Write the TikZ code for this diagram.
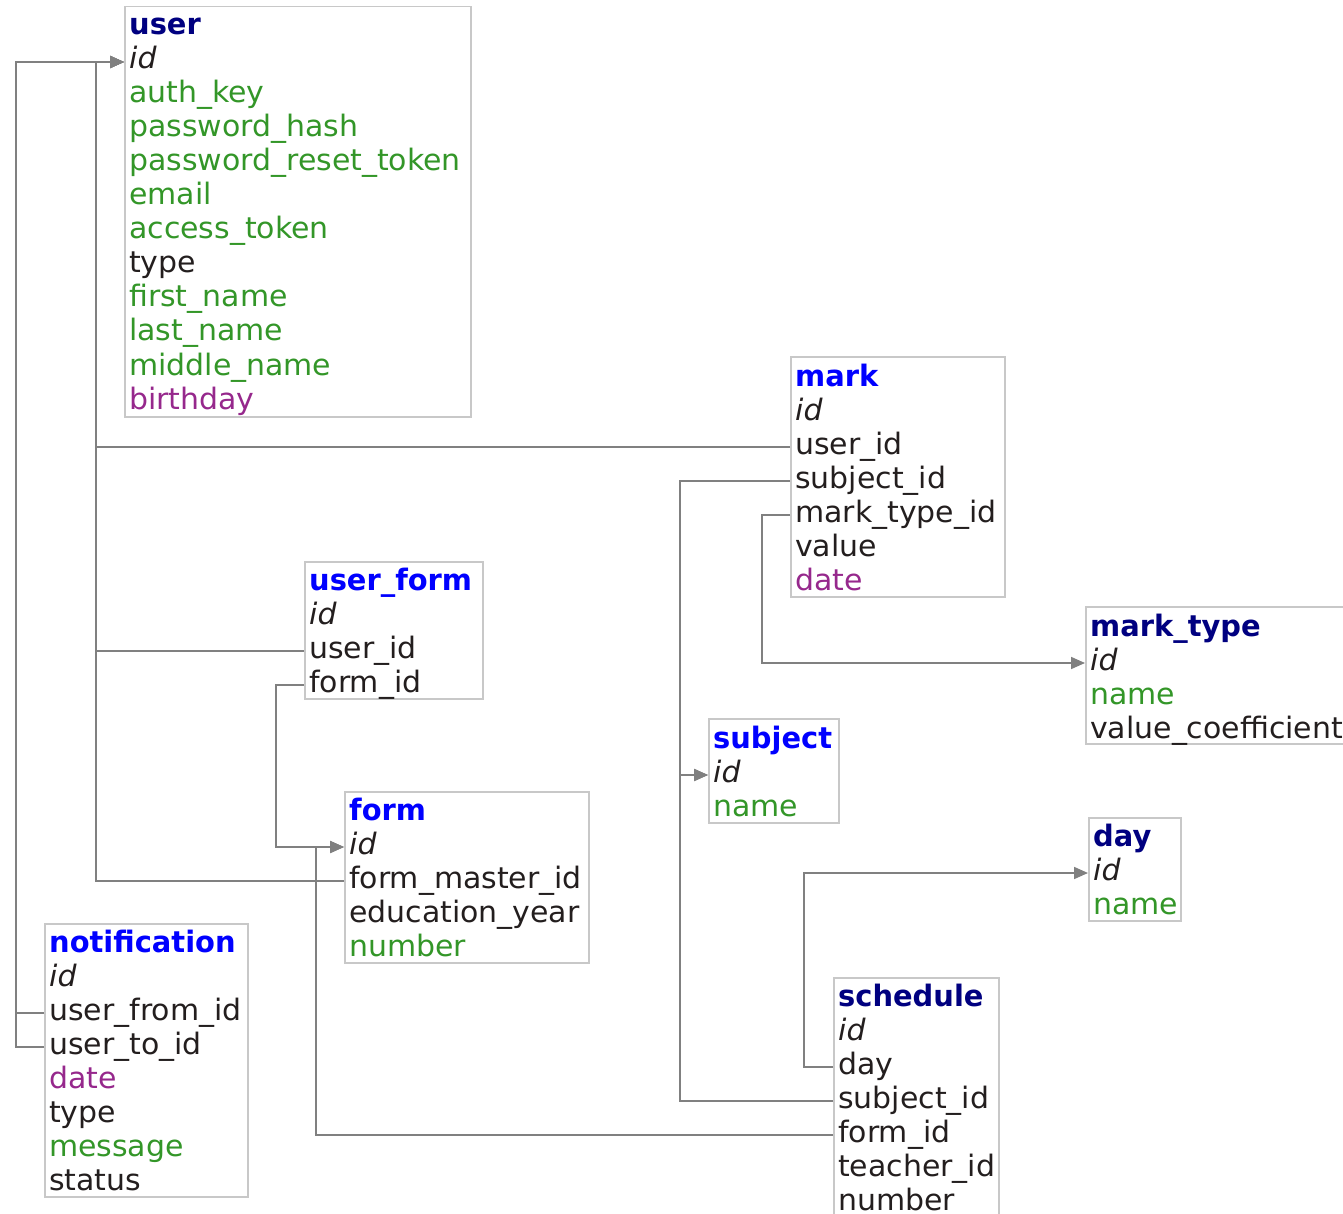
\documentclass[tikz,border=0pt]{standalone}
\usepackage{fontspec}
\setmainfont{DejaVu Sans}[FakeStretch=1.015, BoldFeatures={FakeStretch=0.98}]
\usetikzlibrary{arrows.meta}
\definecolor{navyt}{RGB}{0,0,128}
\definecolor{bluet}{RGB}{0,0,255}
\definecolor{greent}{RGB}{51,150,40}
\definecolor{purplet}{RGB}{150,40,140}
\definecolor{darkt}{RGB}{35,30,30}
\definecolor{linec}{RGB}{128,128,128}
\definecolor{boxc}{RGB}{200,200,200}
\begin{document}
\begin{tikzpicture}[x=1pt,y=-1pt,
  font=\fontsize{29.5}{34}\selectfont,
  tbl/.style={draw=boxc, line width=1.5pt, anchor=north west, inner sep=0pt},
  row/.style={anchor=west, inner xsep=5pt, inner ysep=0pt, text height=21pt, text depth=7pt, text=darkt},
  gr/.style={row, text=greent},
  pu/.style={row, text=purplet},
  tn/.style={row, text=navyt},
  tb/.style={row, text=bluet},
  conn/.style={draw=linec, line width=1.7pt},
  arr/.style={conn, -{Triangle[length=14pt,width=12pt]}}
]
\useasboundingbox (0,0) rectangle (1343,1214);
\clip (0,0) rectangle (1343,1214);

% ---------- tables ----------
\node[tbl, minimum width=346pt, minimum height=410pt] (user) at (124,6) {};
\node[tn] (user-title) at (124,28) {\textbf{user}};
\node[row] (user-id) at (124,62) {\textit{id}};
\node[gr] (user-authkey) at (124,96) {auth\_key};
\node[gr] (user-pwhash) at (124,130) {password\_hash};
\node[gr] (user-pwreset) at (124,164) {password\_reset\_token};
\node[gr] (user-email) at (124,198) {email};
\node[gr] (user-access) at (124,232) {access\_token};
\node[row] (user-type) at (124,266) {type};
\node[gr] (user-first) at (124,300) {first\_name};
\node[gr] (user-last) at (124,334) {last\_name};
\node[gr] (user-middle) at (124,368) {middle\_name};
\node[pu] (user-birthday) at (124,402) {birthday};

\node[tbl, minimum width=214pt, minimum height=240pt] (mark) at (790,356) {};
\node[tb] (mark-title) at (790,379) {\textbf{mark}};
\node[row] (mark-id) at (790,413) {\textit{id}};
\node[row] (mark-userid) at (790,447) {user\_id};
\node[row] (mark-subjectid) at (790,481) {subject\_id};
\node[row] (mark-marktypeid) at (790,515) {mark\_type\_id};
\node[row] (mark-value) at (790,549) {value};
\node[pu] (mark-date) at (790,583) {date};

\node[tbl, minimum width=263pt, minimum height=137pt] (marktype) at (1085,606) {};
\node[tn] (marktype-title) at (1085,629) {\textbf{mark\_type}};
\node[row] (marktype-id) at (1085,663) {\textit{id}};
\node[gr] (marktype-name) at (1085,697) {name};
\node[row] (marktype-coef) at (1085,731) {value\_coefficient};

\node[tbl, minimum width=178pt, minimum height=137pt] (userform) at (304,561) {};
\node[tb] (userform-title) at (304,583) {\textbf{user\_form}};
\node[row] (userform-id) at (304,617) {\textit{id}};
\node[row] (userform-userid) at (304,651) {user\_id};
\node[row] (userform-formid) at (304,685) {form\_id};

\node[tbl, minimum width=130pt, minimum height=104pt] (subject) at (708,718) {};
\node[tb] (subject-title) at (708,741) {\textbf{subject}};
\node[row] (subject-id) at (708,775) {\textit{id}};
\node[gr] (subject-name) at (708,809) {name};

\node[tbl, minimum width=244pt, minimum height=171pt] (form) at (344,791) {};
\node[tb] (form-title) at (344,813) {\textbf{form}};
\node[row] (form-id) at (344,847) {\textit{id}};
\node[row] (form-master) at (344,881) {form\_master\_id};
\node[row] (form-year) at (344,915) {education\_year};
\node[gr] (form-number) at (344,949) {number};

\node[tbl, minimum width=92pt, minimum height=103pt] (day) at (1088,817) {};
\node[tn] (day-title) at (1088,839) {\textbf{day}};
\node[row] (day-id) at (1088,873) {\textit{id}};
\node[gr] (day-name) at (1088,907) {name};

\node[tbl, minimum width=203pt, minimum height=273pt] (notification) at (44,923) {};
\node[tb] (notification-title) at (44,945) {\textbf{notification}};
\node[row] (notification-id) at (44,979) {\textit{id}};
\node[row] (notification-from) at (44,1013) {user\_from\_id};
\node[row] (notification-to) at (44,1047) {user\_to\_id};
\node[pu] (notification-date) at (44,1081) {date};
\node[row] (notification-type) at (44,1115) {type};
\node[gr] (notification-message) at (44,1149) {message};
\node[row] (notification-status) at (44,1183) {status};

\node[tbl, minimum width=165pt, minimum height=250pt] (schedule) at (833,977) {};
\node[tn] (schedule-title) at (833,999) {\textbf{schedule}};
\node[row] (schedule-id) at (833,1033) {\textit{id}};
\node[row] (schedule-day) at (833,1067) {day};
\node[row] (schedule-subjectid) at (833,1101) {subject\_id};
\node[row] (schedule-formid) at (833,1135) {form\_id};
\node[row] (schedule-teacherid) at (833,1169) {teacher\_id};
\node[row] (schedule-number) at (833,1203) {number};

% ---------- routing columns ----------
\coordinate (busA) at (16,0);
\coordinate (busB) at (96,0);
\coordinate (busC) at (276,0);
\coordinate (busD) at (316,0);
\coordinate (busE) at (680,0);
\coordinate (busF) at (762,0);
\coordinate (busG) at (804,0);

% ---------- connectors ----------
\draw[arr] (notification-from.west) -- (notification-from.west -| busA) |- (user-id.west);
\draw[arr] (notification-to.west) -- (notification-to.west -| busA) |- (user-id.west);
\draw[arr] (mark-userid.west) -- (mark-userid.west -| busB) |- (user-id.west);
\draw[arr] (userform-userid.west) -- (userform-userid.west -| busB) |- (user-id.west);
\draw[arr] (form-master.west) -- (form-master.west -| busB) |- (user-id.west);
\draw[arr] (userform-formid.west) -- (userform-formid.west -| busC) |- (form-id.west);
\draw[arr] (schedule-formid.west) -- (schedule-formid.west -| busD) |- (form-id.west);
\draw[arr] (mark-subjectid.west) -- (mark-subjectid.west -| busE) |- (subject-id.west);
\draw[arr] (schedule-subjectid.west) -- (schedule-subjectid.west -| busE) |- (subject-id.west);
\draw[arr] (mark-marktypeid.west) -- (mark-marktypeid.west -| busF) |- (marktype-id.west);
\draw[arr] (schedule-day.west) -- (schedule-day.west -| busG) |- (day-id.west);
\end{tikzpicture}
\end{document}
